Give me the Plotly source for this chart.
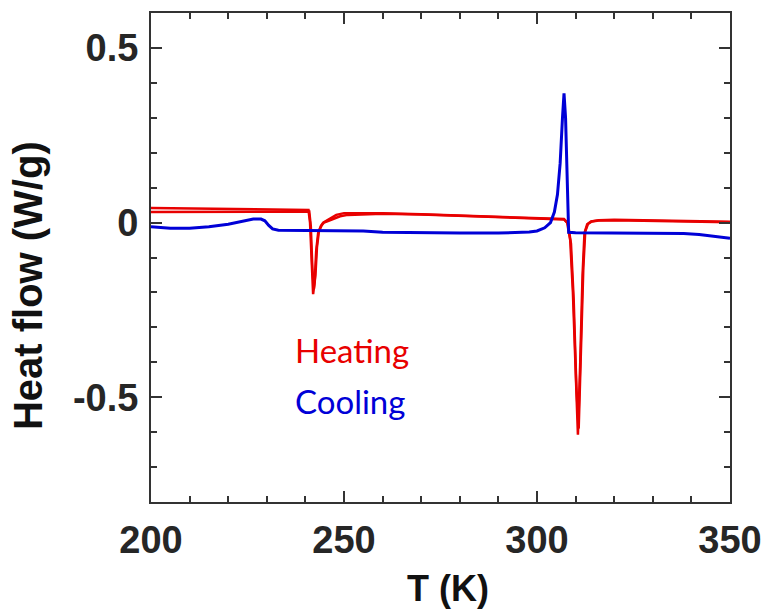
import plotly.graph_objects as go

# Heating run 1
heat1_T = [200, 220, 240, 240.8, 241.2, 241.6, 242.0, 242.4, 242.8, 243.3, 244.0, 244.6, 245.2, 246.5, 248, 250, 255, 260, 270, 280, 290, 300, 305, 307, 307.8, 308.6, 309.3, 310.0, 310.6, 311.2, 311.8, 312.3, 313, 314, 316, 320, 330, 340, 350]
heat1_Q = [0.042, 0.040, 0.037, 0.036, 0.0, -0.12, -0.205, -0.17, -0.08, -0.03, -0.01, 0.0, 0.004, 0.012, 0.022, 0.027, 0.028, 0.027, 0.024, 0.020, 0.017, 0.014, 0.012, 0.010, 0.0, -0.05, -0.2, -0.45, -0.607, -0.4, -0.15, -0.03, -0.005, 0.003, 0.007, 0.008, 0.006, 0.004, 0.002]

# Heating run 2
heat2_T = [200, 220, 240, 241.0, 241.4, 241.8, 242.2, 242.6, 243.0, 243.5, 244.2, 244.8, 245.5, 247, 249, 251, 255, 260, 270, 280, 290, 300, 305, 307, 308.0, 308.8, 309.5, 310.2, 310.8, 311.4, 312.0, 312.5, 313.2, 314.2, 316, 320, 330, 340, 350]
heat2_Q = [0.030, 0.031, 0.032, 0.032, -0.01, -0.13, -0.19, -0.15, -0.07, -0.025, -0.008, 0.0, 0.003, 0.010, 0.018, 0.022, 0.024, 0.025, 0.023, 0.019, 0.016, 0.013, 0.011, 0.009, -0.002, -0.06, -0.22, -0.47, -0.59, -0.38, -0.13, -0.025, -0.004, 0.003, 0.006, 0.007, 0.005, 0.003, 0.001]

# Cooling run
cool_T = [200, 205, 210, 215, 220, 224, 226.5, 228.5, 229.5, 230.5, 231.5, 233, 240, 250, 255, 260, 270, 280, 290, 295, 298, 300, 302, 303.5, 304.5, 305.3, 306, 306.6, 307.0, 307.4, 307.8, 308.2, 310, 320, 330, 338, 342, 346, 350]
cool_Q = [-0.012, -0.016, -0.016, -0.012, -0.005, 0.004, 0.010, 0.010, 0.005, -0.008, -0.018, -0.022, -0.022, -0.022, -0.024, -0.028, -0.030, -0.030, -0.030, -0.029, -0.027, -0.024, -0.015, 0.0, 0.03, 0.08, 0.17, 0.30, 0.37, 0.30, 0.10, -0.028, -0.029, -0.030, -0.030, -0.031, -0.034, -0.039, -0.045]

x_tickvals = [200, 250, 300, 350]
y_tickvals = [-0.5, 0, 0.5]
y_ticktext = ["-0.5", "0", "0.5"]

RED = "rgb(232,0,0)"
BLUE = "rgb(0,0,215)"

fig = go.Figure()
fig.add_trace(go.Scatter(x=heat1_T, y=heat1_Q, mode="lines", line=dict(color=RED, width=2.5)))
fig.add_trace(go.Scatter(x=heat2_T, y=heat2_Q, mode="lines", line=dict(color=RED, width=2.5)))
fig.add_trace(go.Scatter(x=cool_T, y=cool_Q, mode="lines", line=dict(color=BLUE, width=3)))

FAM = "Liberation Sans, Arial, sans-serif"
tickfont = dict(family=FAM, size=38, color="#262626", weight="bold")
axcommon = dict(showline=True, linecolor="#333333", linewidth=2, mirror="ticks",
                ticks="inside", ticklen=11, tickwidth=2, tickcolor="#333333",
                showgrid=False, zeroline=False, tickfont=tickfont, automargin=False)

fig.update_xaxes(range=[200, 350], tickvals=x_tickvals, ticklabelstandoff=3,
                 minor=dict(dtick=10, ticks="inside", ticklen=6, tickwidth=2, tickcolor="#333333", showgrid=False),
                 **axcommon)
fig.update_yaxes(range=[-0.8, 0.6], tickvals=y_tickvals, ticktext=y_ticktext, ticklabelstandoff=3,
                 minor=dict(dtick=0.1, tick0=0, ticks="inside", ticklen=6, tickwidth=2, tickcolor="#333333", showgrid=False),
                 **axcommon)

# axis titles
fig.add_annotation(x=0.513, y=-0.222, xref="paper", yref="paper", text="T (K)", showarrow=False,
                   xanchor="center", yanchor="bottom", font=dict(family=FAM, size=36, color="#111111", weight="bold"))
fig.add_annotation(x=-0.212, y=0.442, xref="paper", yref="paper", text="Heat flow (W/g)", showarrow=False,
                   textangle=-90, xanchor="center", yanchor="middle",
                   font=dict(family=FAM, size=40, color="#111111", weight="bold"))

legfont = dict(family="Lato, Open Sans, sans-serif", size=33)
fig.add_annotation(x=0.245, y=0.31, xref="paper", yref="paper", text="Heating", showarrow=False,
                   xanchor="left", yanchor="middle", font=dict(color=RED, **legfont))
fig.add_annotation(x=0.245, y=0.207, xref="paper", yref="paper", text="Cooling", showarrow=False,
                   xanchor="left", yanchor="middle", font=dict(color=BLUE, **legfont))

fig.update_layout(width=764, height=612, margin=dict(l=151, r=34, t=13, b=110),
                  plot_bgcolor="white", paper_bgcolor="white", showlegend=False)

fig.write_html("out.html", config={"displayModeBar": False},
               post_script="document.body.style.margin='0';document.body.style.overflow='hidden';")
